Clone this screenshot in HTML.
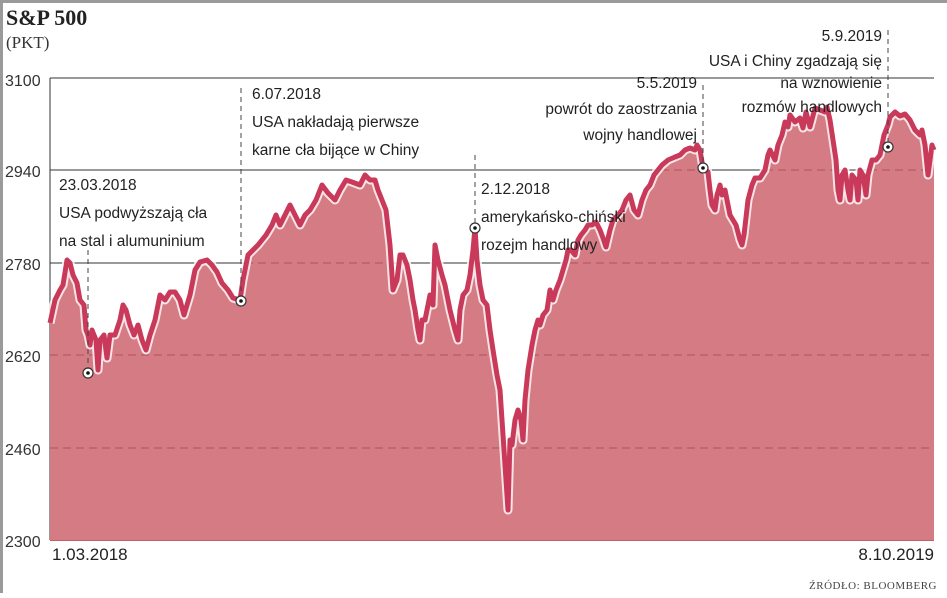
<!DOCTYPE html>
<html><head><meta charset="utf-8"><style>
html,body{margin:0;padding:0;background:#fff;}
body{width:947px;height:593px;overflow:hidden;position:relative;font-family:"Liberation Sans",sans-serif;}
</style></head><body>
<svg width="947" height="593" viewBox="0 0 947 593" xmlns="http://www.w3.org/2000/svg">
<defs>
<path id="p" d="M50,323 L55,300 L60,290 L63,285 L67,260 L70,263 L73,275 L77,283 L80,300 L84,305 L86,330 L88,335 L90,345 L92,330 L96,340 L98,370 L100,340 L104,335 L107,358 L110,335 L115,335 L120,320 L123,305 L126,310 L130,325 L134,335 L138,325 L142,340 L146,350 L150,335 L155,320 L160,295 L165,300 L170,292 L175,292 L180,300 L184,315 L190,295 L195,270 L200,262 L207,260 L212,265 L217,272 L222,283 L228,290 L233,298 L240,300 L243,280 L248,255 L253,250 L258,245 L262,240 L266,235 L272,225 L276,215 L280,225 L285,215 L290,205 L295,215 L300,225 L305,215 L310,210 L316,200 L322,185 L328,193 L335,200 L340,190 L346,180 L352,182 L360,185 L365,175 L370,180 L375,180 L378,190 L382,200 L386,210 L390,245 L393,290 L397,280 L400,255 L403,255 L407,265 L410,280 L413,300 L415,310 L418,330 L420,340 L422,320 L425,320 L430,295 L433,305 L435,245 L438,260 L442,275 L445,285 L448,300 L450,310 L455,330 L458,340 L460,310 L463,295 L467,290 L470,275 L473,250 L475,228 L477,260 L480,285 L483,300 L487,305 L490,330 L493,350 L497,375 L500,390 L502,420 L504,450 L506,480 L508,510 L510,440 L512,445 L515,420 L518,410 L521,420 L523,440 L525,400 L528,370 L532,345 L535,330 L538,320 L540,325 L543,315 L547,310 L550,290 L553,300 L556,290 L560,280 L563,270 L566,260 L568,250 L571,250 L575,255 L578,240 L581,235 L585,230 L588,225 L592,225 L596,222 L600,230 L603,238 L606,247 L610,230 L613,220 L618,215 L622,210 L626,200 L630,195 L634,210 L638,215 L642,200 L646,190 L650,185 L654,175 L658,170 L662,165 L668,160 L675,157 L680,155 L685,150 L690,148 L695,150 L697,145 L700,150 L703,168 L708,172 L710,190 L712,205 L715,210 L717,195 L720,185 L722,195 L725,190 L728,205 L730,215 L733,220 L736,225 L740,240 L742,245 L744,235 L748,200 L752,185 L755,178 L760,178 L765,170 L768,155 L770,150 L775,160 L778,145 L782,135 L785,122 L788,127 L790,115 L795,122 L800,118 L803,128 L806,112 L810,127 L815,108 L820,110 L825,112 L827,107 L830,120 L833,140 L836,160 L838,190 L840,200 L842,175 L845,170 L848,190 L850,200 L852,175 L856,180 L858,200 L860,170 L863,175 L866,195 L868,175 L872,160 L876,160 L880,155 L884,135 L888,125 L890,117 L895,112 L900,116 L905,114 L910,120 L915,130 L920,135 L922,130 L925,145 L928,175 L930,160 L932,145 L934,150"/>
<clipPath id="c"><path d="M50,323 L55,300 L60,290 L63,285 L67,260 L70,263 L73,275 L77,283 L80,300 L84,305 L86,330 L88,335 L90,345 L92,330 L96,340 L98,370 L100,340 L104,335 L107,358 L110,335 L115,335 L120,320 L123,305 L126,310 L130,325 L134,335 L138,325 L142,340 L146,350 L150,335 L155,320 L160,295 L165,300 L170,292 L175,292 L180,300 L184,315 L190,295 L195,270 L200,262 L207,260 L212,265 L217,272 L222,283 L228,290 L233,298 L240,300 L243,280 L248,255 L253,250 L258,245 L262,240 L266,235 L272,225 L276,215 L280,225 L285,215 L290,205 L295,215 L300,225 L305,215 L310,210 L316,200 L322,185 L328,193 L335,200 L340,190 L346,180 L352,182 L360,185 L365,175 L370,180 L375,180 L378,190 L382,200 L386,210 L390,245 L393,290 L397,280 L400,255 L403,255 L407,265 L410,280 L413,300 L415,310 L418,330 L420,340 L422,320 L425,320 L430,295 L433,305 L435,245 L438,260 L442,275 L445,285 L448,300 L450,310 L455,330 L458,340 L460,310 L463,295 L467,290 L470,275 L473,250 L475,228 L477,260 L480,285 L483,300 L487,305 L490,330 L493,350 L497,375 L500,390 L502,420 L504,450 L506,480 L508,510 L510,440 L512,445 L515,420 L518,410 L521,420 L523,440 L525,400 L528,370 L532,345 L535,330 L538,320 L540,325 L543,315 L547,310 L550,290 L553,300 L556,290 L560,280 L563,270 L566,260 L568,250 L571,250 L575,255 L578,240 L581,235 L585,230 L588,225 L592,225 L596,222 L600,230 L603,238 L606,247 L610,230 L613,220 L618,215 L622,210 L626,200 L630,195 L634,210 L638,215 L642,200 L646,190 L650,185 L654,175 L658,170 L662,165 L668,160 L675,157 L680,155 L685,150 L690,148 L695,150 L697,145 L700,150 L703,168 L708,172 L710,190 L712,205 L715,210 L717,195 L720,185 L722,195 L725,190 L728,205 L730,215 L733,220 L736,225 L740,240 L742,245 L744,235 L748,200 L752,185 L755,178 L760,178 L765,170 L768,155 L770,150 L775,160 L778,145 L782,135 L785,122 L788,127 L790,115 L795,122 L800,118 L803,128 L806,112 L810,127 L815,108 L820,110 L825,112 L827,107 L830,120 L833,140 L836,160 L838,190 L840,200 L842,175 L845,170 L848,190 L850,200 L852,175 L856,180 L858,200 L860,170 L863,175 L866,195 L868,175 L872,160 L876,160 L880,155 L884,135 L888,125 L890,117 L895,112 L900,116 L905,114 L910,120 L915,130 L920,135 L922,130 L925,145 L928,175 L930,160 L932,145 L934,150 L934,540 L50,540 Z"/></clipPath>
</defs>
<rect x="0" y="0" width="947" height="3" fill="#9a9a9a"/>
<rect x="0" y="0" width="3" height="593" fill="#9a9a9a"/>
<text x="6" y="25" font-family="Liberation Serif" font-weight="bold" font-size="22" fill="#222">S&amp;P 500</text>
<text x="6" y="48" font-family="Liberation Serif" font-size="17" fill="#333">(PKT)</text>
<g font-family="Liberation Sans" font-size="16" fill="#333">
<text x="5" y="86">3100</text><text x="5" y="177">2940</text><text x="5" y="270">2780</text>
<text x="5" y="362">2620</text><text x="5" y="455">2460</text><text x="5" y="547">2300</text>
</g>
<g stroke="#333" stroke-width="1">
<line x1="50" y1="78" x2="934" y2="78"/><line x1="50" y1="170" x2="934" y2="170"/>
<line x1="50" y1="263" x2="934" y2="263"/><line x1="50" y1="78" x2="50" y2="540"/>
</g>
<rect x="40" y="60" width="900" height="490" fill="#d47b84" clip-path="url(#c)"/>
<g stroke="#b0505a" stroke-width="1" stroke-dasharray="8,5" clip-path="url(#c)">
<line x1="50" y1="170" x2="934" y2="170"/>
<line x1="50" y1="263" x2="934" y2="263"/>
<line x1="50" y1="355" x2="934" y2="355"/>
<line x1="50" y1="448" x2="934" y2="448"/>
</g>
<line x1="50" y1="540.5" x2="934" y2="540.5" stroke="#c06068" stroke-width="1"/>
<use href="#p" fill="none" stroke="#fff" stroke-width="9" stroke-linejoin="round" opacity="0.8"/>
<use href="#p" fill="none" stroke="#c9395a" stroke-width="5" stroke-linejoin="round"/>
<g stroke="#444" stroke-width="1" stroke-dasharray="5,4">
<line x1="88" y1="250" x2="88" y2="368"/>
<line x1="241" y1="88" x2="241" y2="296"/>
<line x1="475" y1="155" x2="475" y2="223"/>
<line x1="703" y1="85" x2="703" y2="163"/>
<line x1="888" y1="30" x2="888" y2="142"/>
</g>
<g fill="#fff" stroke="#333" stroke-width="1.2">
<circle cx="88" cy="373" r="5"/><circle cx="241" cy="301" r="5"/><circle cx="475" cy="228" r="5"/>
<circle cx="703" cy="168" r="5"/><circle cx="888" cy="147" r="5"/>
</g>
<g fill="#111"><circle cx="88" cy="373" r="1.8"/><circle cx="241" cy="301" r="1.8"/><circle cx="475" cy="228" r="1.8"/><circle cx="703" cy="168" r="1.8"/><circle cx="888" cy="147" r="1.8"/></g>
<g font-family="Liberation Sans" font-size="15.5" fill="#222">
<text x="59" y="190">23.03.2018</text>
<text x="59" y="218">USA podwyższają cła</text>
<text x="59" y="246">na stal i alumuninium</text>
<text x="252" y="99">6.07.2018</text>
<text x="252" y="127">USA nakładają pierwsze</text>
<text x="252" y="155">karne cła bijące w Chiny</text>
<text x="481" y="194">2.12.2018</text>
<text x="481" y="222">amerykańsko-chiński</text>
<text x="481" y="250">rozejm handlowy</text>
<g text-anchor="end">
<text x="697" y="88">5.5.2019</text>
<text x="697" y="114">powrót do zaostrzania</text>
<text x="697" y="140">wojny handlowej</text>
<text x="882" y="41">5.9.2019</text>
<text x="882" y="66">USA i Chiny zgadzają się</text>
<text x="882" y="88">na wznowienie</text>
<text x="882" y="112">rozmów handlowych</text>
<text x="934" y="560" font-size="17">8.10.2019</text>
</g>
<text x="52" y="560" font-size="17">1.03.2018</text>
</g>
<text x="937" y="589" text-anchor="end" font-family="Liberation Serif" font-size="11" fill="#444" letter-spacing="0.5">ŹRÓDŁO: BLOOMBERG</text>
</svg>
</body></html>
